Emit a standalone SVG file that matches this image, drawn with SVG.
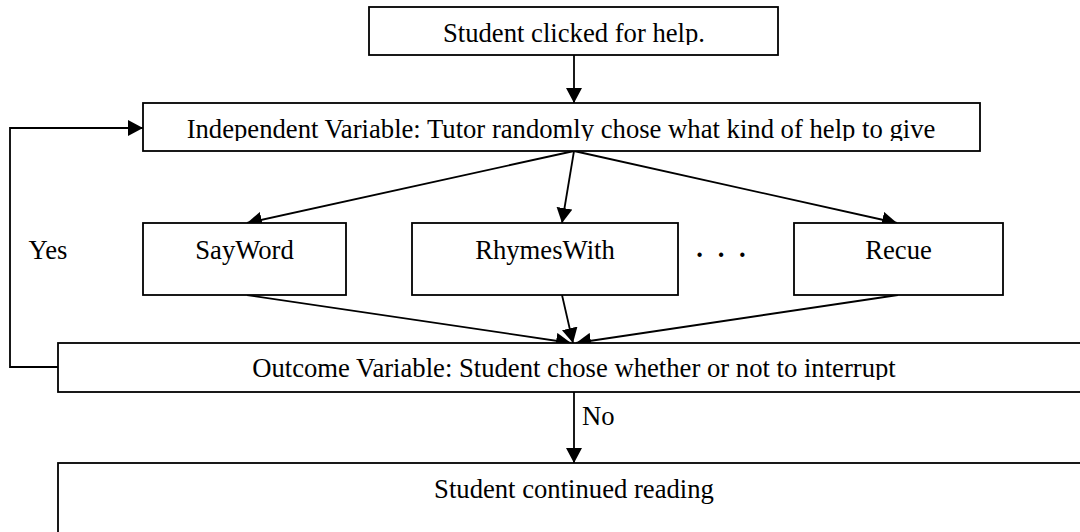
<svg xmlns="http://www.w3.org/2000/svg" width="1080" height="532" viewBox="0 0 1080 532">
  <style>
    .box { fill: #ffffff; stroke: #000000; stroke-width: 1.8; }
    .lbl { font-family: "Liberation Serif", "Times New Roman", serif; font-size: 26.67px; fill: #000000; }
    .mid { text-anchor: middle; }
    .wire { fill: none; stroke: #000000; stroke-width: 1.8; }
  </style>
  <defs>
    <marker id="head" markerUnits="userSpaceOnUse" markerWidth="16" markerHeight="16" refX="15" refY="8" orient="auto">
      <path d="M0,0 L15,8 L0,16 z" fill="#000000"/>
    </marker>
    <!-- text frames that crop the descenders of the wide labels -->
    <clipPath id="clipTop"><rect x="369" y="7" width="409" height="38"/></clipPath>
    <clipPath id="clipIV"><rect x="143" y="103" width="837" height="38"/></clipPath>
    <clipPath id="clipOut"><rect x="58" y="343" width="1030" height="37"/></clipPath>
  </defs>

  <rect width="1080" height="532" fill="#ffffff"/>

  <g id="connectors">
    <line class="wire" x1="574" y1="55" x2="574" y2="103" marker-end="url(#head)"/>
    <line class="wire" x1="574" y1="151" x2="247" y2="223" marker-end="url(#head)"/>
    <line class="wire" x1="574" y1="151" x2="562" y2="223" marker-end="url(#head)"/>
    <line class="wire" x1="574" y1="151" x2="897" y2="223" marker-end="url(#head)"/>
    <line class="wire" x1="247" y1="295" x2="571" y2="343" marker-end="url(#head)"/>
    <line class="wire" x1="562" y1="295" x2="573" y2="343" marker-end="url(#head)"/>
    <line class="wire" x1="898" y1="295" x2="576" y2="343" marker-end="url(#head)"/>
    <line class="wire" x1="574" y1="392" x2="574" y2="463" marker-end="url(#head)"/>
    <polyline class="wire" points="58,367 10,367 10,128 143,128" marker-end="url(#head)"/>
    <text class="lbl mid" x="48" y="259">Yes</text>
    <text class="lbl" x="582" y="425">No</text>
  </g>

  <g id="start">
    <rect class="box" x="369" y="7" width="409" height="48"/>
    <text class="lbl mid" x="574" y="42" clip-path="url(#clipTop)">Student clicked for help.</text>
  </g>

  <g id="independent">
    <rect class="box" x="143" y="103" width="837" height="48"/>
    <text class="lbl mid" x="561" y="138" clip-path="url(#clipIV)">Independent Variable: Tutor randomly chose what kind of help to give</text>
  </g>

  <g id="sayword">
    <rect class="box" x="143" y="223" width="203" height="72"/>
    <text class="lbl mid" x="244.5" y="259">SayWord</text>
  </g>

  <g id="rhymeswith">
    <rect class="box" x="412" y="223" width="266" height="72"/>
    <text class="lbl mid" x="545" y="259">RhymesWith</text>
  </g>

  <g id="more">
    <text class="lbl mid" x="723" y="257" font-weight="bold" letter-spacing="4">. . .</text>
  </g>

  <g id="recue">
    <rect class="box" x="794" y="223" width="209" height="72"/>
    <text class="lbl mid" x="898.5" y="259">Recue</text>
  </g>

  <g id="outcome">
    <rect class="box" x="58" y="343" width="1040" height="49"/>
    <text class="lbl mid" x="574" y="377" clip-path="url(#clipOut)">Outcome Variable: Student chose whether or not to interrupt</text>
  </g>

  <g id="continued">
    <rect class="box" x="58" y="463" width="1040" height="90"/>
    <text class="lbl mid" x="574" y="498">Student continued reading</text>
  </g>
</svg>
